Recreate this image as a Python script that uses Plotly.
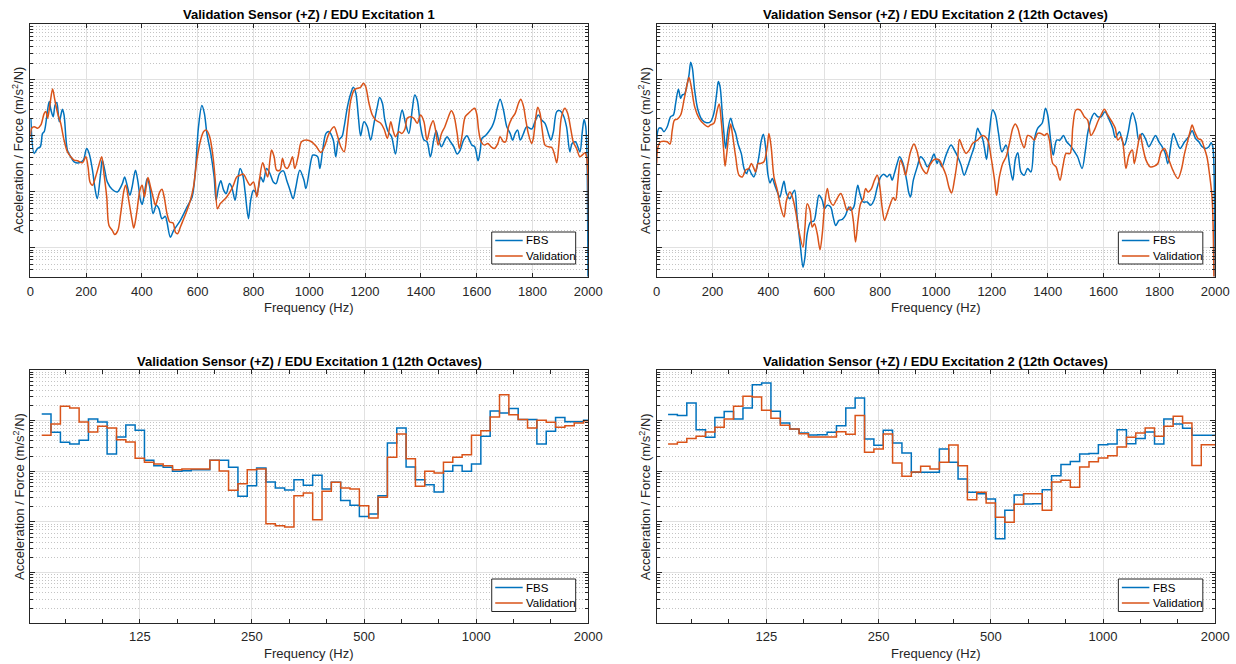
import plotly.graph_objects as go

# ---------------- Top-left: Excitation 1, narrowband ----------------
f_fbs1 = [2, 14, 26, 36, 44, 50, 62, 68, 74, 82, 89, 95, 104, 115, 121, 133, 145, 157, 175, 190,
          202, 211, 223, 231, 240, 252, 258, 267, 276, 294, 312, 330, 338, 347, 357, 365, 377, 386, 395, 401,
          409, 419, 428, 440, 452, 461, 472, 484, 490, 502, 514, 538, 562, 580, 591, 603, 615, 624, 633, 647,
          659, 666, 675, 683, 693, 702, 714, 722, 734, 743, 752, 762, 770, 782, 790, 800, 812, 826, 835, 847,
          859, 871, 881, 893, 907, 919, 931, 942, 952, 966, 981, 988, 1012, 1018, 1030, 1038, 1048, 1060, 1071, 1086,
          1095, 1105, 1117, 1125, 1137, 1149, 1158, 1167, 1176, 1184, 1196, 1208, 1220, 1232, 1244, 1252, 1262, 1271, 1283, 1295,
          1309, 1321, 1333, 1345, 1357, 1369, 1378, 1387, 1399, 1411, 1422, 1434, 1446, 1455, 1464, 1474, 1486, 1494, 1506, 1518,
          1530, 1541, 1553, 1565, 1574, 1583, 1593, 1605, 1613, 1619, 1631, 1643, 1655, 1664, 1672, 1684, 1696, 1708, 1720, 1729,
          1738, 1747, 1756, 1768, 1779, 1797, 1809, 1821, 1833, 1845, 1857, 1866, 1875, 1887, 1898, 1910, 1922, 1934, 1942, 1954,
          1970, 1978, 1985, 1991, 1995, 2000]
a_fbs1 = [2.05, 0.482, 0.592, 0.634, 1.10, 1.18, 2.89, 4.08, 2.89, 2.19, 3.56, 3.92, 1.78, 2.97, 2.35, 0.553, 0.42, 0.341, 0.327, 0.366,
          0.592, 0.482, 0.242, 0.121, 0.0748, 0.210, 0.366, 0.242, 0.149, 0.109, 0.0986, 0.139, 0.183, 0.130, 0.0859, 0.121, 0.242, 0.149, 0.0698, 0.0592,
          0.092, 0.171, 0.121, 0.0403, 0.0568, 0.0495, 0.0327, 0.036, 0.0285, 0.0153, 0.0202, 0.0305, 0.0531, 0.0802, 0.210, 1.45, 3.46, 2.52, 1.10, 0.482,
          0.183, 0.0698, 0.121, 0.156, 0.106, 0.092, 0.139, 0.121, 0.0698, 0.139, 0.259, 0.196, 0.0986, 0.0327, 0.0698, 0.106, 0.092, 0.183, 0.149, 0.259,
          0.21, 0.149, 0.139, 0.21, 0.235, 0.16, 0.106, 0.0748, 0.121, 0.242, 0.16, 0.113, 0.45, 0.45, 0.42, 0.259, 0.553, 1.10, 1.18, 0.836,
          0.42, 0.836, 0.96, 1.45, 3.32, 5.75, 7.38, 5.75, 2.19, 1.0, 1.78, 1.45, 0.836, 1.67, 3.32, 4.82, 3.81, 1.91, 1.18, 0.96,
          0.469, 1.45, 2.89, 1.67, 1.10, 2.89, 5.38, 4.37, 1.45, 0.836, 0.78, 0.42, 0.836, 1.23, 0.836, 0.634, 0.836, 0.96, 0.78, 0.634,
          0.469, 0.553, 0.836, 1.0, 0.836, 0.679, 0.634, 0.356, 0.553, 0.895, 1.0, 1.18, 1.45, 1.91, 2.89, 4.5, 2.89, 1.45, 1.10, 0.836,
          1.10, 1.26, 0.836, 1.10, 1.45, 1.32, 1.78, 2.35, 1.91, 1.67, 1.10, 0.836, 1.18, 2.7, 2.81, 2.35, 1.45, 0.516, 0.728, 0.78,
          0.516, 1.10, 1.96, 1.45, 0.553, 0.0001]

f_val1 = [0, 5, 14, 26, 38, 50, 56, 62, 71, 80, 88, 98, 109, 121, 133, 145, 157, 169, 187, 199,
          207, 214, 223, 234, 246, 256, 264, 274, 282, 294, 303, 314, 324, 336, 342, 353, 365, 371, 381, 393,
          401, 409, 417, 422, 431, 440, 449, 455, 464, 472, 481, 490, 500, 512, 520, 528, 538, 550, 562, 574,
          585, 597, 609, 621, 631, 643, 655, 663, 671, 681, 693, 704, 716, 728, 740, 752, 764, 776, 788, 800,
          812, 821, 833, 842, 851, 859, 865, 874, 883, 895, 904, 913, 921, 931, 940, 948, 960, 972, 990, 1008,
          1024, 1042, 1054, 1071, 1089, 1101, 1113, 1125, 1137, 1149, 1161, 1173, 1184, 1194, 1202, 1214, 1226, 1238, 1256, 1268,
          1280, 1292, 1300, 1309, 1321, 1331, 1343, 1351, 1363, 1375, 1387, 1399, 1411, 1422, 1434, 1444, 1452, 1462, 1474, 1486,
          1497, 1509, 1518, 1530, 1538, 1547, 1559, 1571, 1583, 1593, 1601, 1607, 1616, 1628, 1640, 1652, 1664, 1676, 1684, 1696,
          1704, 1714, 1726, 1738, 1750, 1758, 1768, 1776, 1785, 1797, 1803, 1813, 1819, 1827, 1835, 1845, 1857, 1869, 1878, 1887,
          1895, 1904, 1916, 1926, 1938, 1946, 1958, 1970, 1978, 1988, 1994, 2000]
a_val1 = [0.96, 1.36, 1.45, 1.36, 1.56, 2.52, 2.7, 2.05, 3.81, 6.89, 4.37, 2.52, 1.67, 0.836, 0.516, 0.42, 0.366, 0.356, 0.327, 0.42,
          0.277, 0.149, 0.130, 0.183, 0.297, 0.42, 0.21, 0.0802, 0.0248, 0.0202, 0.0171, 0.0202, 0.0403, 0.106, 0.130, 0.0698, 0.0305, 0.0222, 0.0403, 0.106,
          0.130, 0.0802, 0.139, 0.178, 0.121, 0.0802, 0.0568, 0.0698, 0.0986, 0.110, 0.0748, 0.0403, 0.0285, 0.0274, 0.0188, 0.0176, 0.0232, 0.0327, 0.0462, 0.0698,
          0.121, 0.366, 0.78, 1.18, 1.26, 0.96, 0.42, 0.16, 0.0495, 0.0608, 0.0698, 0.0802, 0.0986, 0.130, 0.183, 0.196, 0.205, 0.16, 0.130, 0.149,
          0.0802, 0.16, 0.327, 0.242, 0.183, 0.366, 0.553, 0.42, 0.242, 0.242, 0.392, 0.277, 0.259, 0.317, 0.42, 0.259, 0.42, 0.78, 0.836, 0.78,
          0.652, 0.502, 0.634, 1.10, 1.45, 1.0, 0.634, 0.516, 1.45, 4.37, 6.6, 7.08, 7.38, 8.71, 7.59, 3.81, 2.35, 1.91, 1.67, 1.32,
          0.895, 1.78, 1.26, 0.96, 1.18, 1.10, 1.32, 2.05, 2.19, 2.05, 1.67, 2.35, 1.78, 0.836, 1.45, 1.86, 1.32, 0.679, 1.10, 1.45,
          2.05, 2.81, 2.35, 1.10, 0.592, 0.96, 2.19, 2.52, 2.89, 3.1, 2.35, 1.26, 0.78, 0.679, 0.728, 0.634, 0.592, 0.728, 0.96, 0.78,
          0.78, 1.45, 2.05, 2.52, 3.81, 4.5, 3.32, 1.91, 1.10, 0.728, 0.895, 2.35, 3.23, 2.52, 1.26, 0.679, 0.634, 0.62, 0.482, 0.327,
          0.728, 2.19, 3.1, 2.52, 1.26, 0.78, 0.592, 0.42, 0.45, 0.496, 0.42, 0.0001]

# ---------------- Top-right: Excitation 2, narrowband ----------------
f_fbs2 = [0, 8, 17, 26, 38, 50, 60, 68, 78, 86, 92, 100, 110, 116, 122, 128, 136, 148, 163, 179,
          193, 205, 215, 221, 227, 235, 241, 247, 255, 265, 274, 283, 291, 303, 313, 322, 330, 339, 348, 358,
          366, 375, 382, 390, 398, 406, 414, 423, 432, 441, 450, 456, 465, 477, 486, 494, 503, 515, 524, 531,
          539, 551, 563, 573, 581, 593, 601, 611, 623, 632, 641, 653, 665, 676, 688, 694, 706, 712, 720, 727,
          739, 754, 766, 778, 790, 802, 813, 825, 835, 843, 851, 861, 870, 882, 895, 903, 909, 919, 933, 945,
          957, 969, 981, 993, 1004, 1010, 1021, 1036, 1054, 1066, 1078, 1090, 1101, 1113, 1125, 1137, 1149, 1155, 1165, 1173,
          1181, 1191, 1203, 1213, 1224, 1236, 1251, 1263, 1275, 1284, 1293, 1304, 1316, 1328, 1340, 1352, 1364, 1380, 1392, 1400,
          1412, 1420, 1432, 1444, 1456, 1468, 1484, 1496, 1507, 1523, 1535, 1543, 1555, 1567, 1579, 1591, 1605, 1618, 1633, 1642,
          1657, 1666, 1675, 1687, 1698, 1704, 1716, 1726, 1738, 1752, 1762, 1776, 1786, 1798, 1810, 1821, 1830, 1842, 1850, 1860,
          1874, 1890, 1905, 1917, 1929, 1941, 1953, 1967, 1977, 1985, 1991, 1997, 2000]
a_fbs2 = [0.836, 1.36, 1.36, 1.18, 1.45, 2.19, 2.35, 3.81, 6.79, 4.69, 5.38, 5.61, 8.71, 12.3, 20.7, 16.2, 6.61, 2.89, 1.91, 1.71,
          1.78, 2.52, 5.75, 9.33, 7.59, 2.52, 1.10, 0.592, 1.26, 2.05, 1.45, 1.10, 0.728, 0.482, 0.259, 0.21, 0.259, 0.21, 0.183, 0.259,
          0.42, 0.836, 1.06, 0.634, 0.21, 0.143, 0.171, 0.13, 0.0986, 0.0802, 0.121, 0.153, 0.092, 0.0748, 0.092, 0.106, 0.0351, 0.0101, 0.0044, 0.0067,
          0.0176, 0.0285, 0.0297, 0.0531, 0.0859, 0.0698, 0.0495, 0.0568, 0.0531, 0.0351, 0.0248, 0.0305, 0.0318, 0.0376, 0.0531, 0.0462, 0.0531, 0.0802, 0.13, 0.0946,
          0.0652, 0.0652, 0.0568, 0.0698, 0.121, 0.183, 0.205, 0.183, 0.205, 0.16, 0.21, 0.318, 0.42, 0.318, 0.16, 0.0946, 0.0802, 0.16, 0.277, 0.42,
          0.366, 0.277, 0.341, 0.469, 0.318, 0.376, 0.277, 0.45, 0.679, 0.553, 0.42, 0.297, 0.196, 0.277, 0.42, 0.634, 1.36, 1.18, 0.96, 0.634,
          0.376, 1.10, 2.89, 2.35, 1.10, 0.516, 0.679, 0.318, 0.16, 0.376, 0.496, 0.225, 0.196, 0.259, 0.225, 0.836, 1.36, 1.67, 3.10, 2.35,
          0.728, 0.45, 0.836, 0.836, 1.01, 0.78, 0.634, 0.516, 0.42, 0.259, 0.553, 1.10, 1.96, 2.52, 2.19, 2.19, 2.70, 2.05, 1.36, 0.93,
          1.18, 0.836, 0.679, 1.10, 2.19, 2.59, 1.67, 0.836, 1.10, 0.836, 0.634, 0.836, 1.01, 0.78, 0.634, 0.482, 0.318, 0.728, 1.10, 0.836,
          0.592, 0.78, 0.96, 1.23, 0.895, 0.78, 0.634, 0.592, 0.634, 0.748, 0.634, 0.0698, 0.0001]

f_val2 = [0, 5, 14, 26, 38, 48, 56, 64, 74, 86, 98, 110, 116, 124, 136, 152, 169, 184, 193, 205,
          217, 224, 232, 239, 245, 251, 259, 265, 271, 283, 295, 307, 318, 330, 339, 346, 354, 363, 372, 384,
          396, 402, 410, 420, 432, 444, 456, 465, 477, 486, 497, 509, 524, 531, 539, 549, 557, 565, 575, 585,
          593, 601, 611, 620, 632, 644, 659, 670, 682, 694, 704, 712, 721, 730, 740, 748, 757, 769, 780, 790,
          799, 807, 816, 825, 837, 847, 855, 864, 873, 883, 891, 900, 909, 921, 931, 943, 954, 966, 978, 994,
          1012, 1024, 1036, 1048, 1056, 1066, 1078, 1084, 1096, 1108, 1119, 1131, 1149, 1167, 1185, 1197, 1209, 1217, 1227, 1239,
          1251, 1263, 1275, 1284, 1293, 1304, 1316, 1328, 1340, 1352, 1364, 1376, 1388, 1398, 1406, 1418, 1430, 1444, 1454, 1466,
          1480, 1490, 1501, 1516, 1531, 1543, 1555, 1567, 1579, 1591, 1603, 1615, 1630, 1642, 1651, 1663, 1671, 1680, 1691, 1703,
          1710, 1722, 1731, 1740, 1752, 1767, 1782, 1794, 1806, 1818, 1830, 1848, 1866, 1878, 1890, 1902, 1911, 1917, 1926, 1938,
          1950, 1961, 1970, 1979, 1989, 1997]
a_val2 = [0.318, 0.634, 0.78, 0.80, 0.78, 0.708, 1.26, 1.91, 1.99, 2.35, 4.37, 8.71, 11.0, 7.59, 3.32, 2.05, 1.62, 1.45, 1.56, 1.67,
          2.89, 3.71, 1.67, 0.634, 0.285, 0.482, 1.10, 1.62, 1.10, 0.42, 0.196, 0.183, 0.242, 0.259, 0.318, 0.277, 0.225, 0.318, 0.318, 0.341,
          0.634, 1.10, 0.634, 0.183, 0.106, 0.0531, 0.0351, 0.0698, 0.0986, 0.0802, 0.0462, 0.0202, 0.0101, 0.0232, 0.0608, 0.0462, 0.0232, 0.0266, 0.0176, 0.0091,
          0.0176, 0.0531, 0.113, 0.0698, 0.0568, 0.0718, 0.092, 0.0698, 0.0462, 0.0531, 0.0305, 0.0125, 0.0305, 0.0608, 0.0748, 0.113, 0.0986, 0.113, 0.16, 0.196,
          0.121, 0.0531, 0.0305, 0.0403, 0.0608, 0.078, 0.0698, 0.16, 0.366, 0.277, 0.196, 0.318, 0.516, 0.708, 0.553, 0.318, 0.242, 0.21, 0.297, 0.376,
          0.366, 0.277, 0.196, 0.113, 0.0946, 0.16, 0.42, 0.86, 0.608, 0.482, 0.553, 0.728, 0.836, 1.01, 0.836, 0.42, 0.171, 0.0859, 0.183, 0.318,
          0.42, 0.728, 1.36, 1.62, 1.36, 0.836, 0.608, 1.01, 0.96, 0.836, 1.10, 1.10, 1.01, 1.10, 0.836, 0.318, 0.277, 0.16, 0.277, 0.482,
          0.482, 1.45, 2.89, 2.89, 2.19, 1.91, 1.01, 1.26, 1.78, 2.35, 2.97, 2.35, 1.78, 1.36, 0.836, 0.96, 0.634, 0.259, 0.45, 0.553,
          0.318, 0.634, 1.06, 0.634, 0.366, 0.277, 0.285, 0.318, 0.516, 0.592, 0.42, 0.242, 0.171, 0.242, 0.482, 0.836, 1.26, 1.56, 1.18, 0.895,
          0.836, 0.592, 0.42, 0.21, 0.0698, 0.0001]

# ---------------- Bottom: 1/12-octave bands ----------------
band_centers = [70.15, 74.3, 78.75, 83.4, 88.4, 93.65, 99.2, 105.1, 111.4, 118.0,
                125.0, 132.4, 140.3, 148.65, 157.5, 166.9, 176.8, 187.3, 198.4, 210.2,
                222.7, 236.0, 250.0, 264.9, 280.6, 297.3, 315.0, 333.7, 353.6, 374.6,
                396.9, 420.4, 445.4, 471.9, 500.0, 529.7, 561.2, 594.6, 630.0, 667.4,
                707.1, 749.2, 793.7, 840.9, 890.9, 943.9, 1000.0, 1059.5, 1122.5, 1189.2,
                1259.9, 1334.8, 1414.2, 1498.3, 1587.4, 1681.8, 1781.8, 1887.7, 2000.0]

o_fbs1 = [13.5, 5.89, 3.73, 3.46, 4.09, 10.8, 9.42, 2.20, 4.76, 8.21,
          6.44, 1.65, 1.29, 1.20, 1.0, 1.03, 1.08, 1.08, 1.65, 1.65,
          1.20, 0.321, 0.52, 1.16, 0.615, 0.469, 0.428, 0.685, 0.53, 0.834,
          0.448, 0.606, 0.264, 0.213, 0.129, 0.144, 0.331, 3.62, 7.16, 1.22,
          0.685, 0.545, 0.391, 1.0, 1.31, 1.0, 1.40, 4.91, 15.5, 14.2,
          17.3, 10.5, 10.5, 3.46, 6.15, 11.6, 9.55, 9.55, 10.2]
o_val1 = [5.14, 8.59, 19.2, 17.8, 9.42, 5.97, 7.73, 7.16, 4.22, 3.79,
          1.81, 1.51, 1.40, 1.29, 1.08, 1.11, 1.11, 1.11, 1.65, 1.02,
          0.422, 0.571, 1.08, 1.11, 0.0927, 0.0847, 0.0796, 0.331, 0.374, 0.111,
          0.403, 0.606, 0.469, 0.448, 0.21, 0.12, 0.307, 1.89, 5.46, 1.78,
          0.506, 1.0, 0.927, 1.51, 1.89, 2.13, 5.14, 6.35, 11.8, 32.6,
          13.1, 10.5, 7.16, 10.2, 9.27, 7.38, 7.96, 9.0, 10.0]
o_fbs2 = [13.3, 12.6, 22.3, 6.64, 4.69, 11.5, 15.1, 10.8, 17.8, 51.4,
          55.3, 15.3, 9.0, 6.85, 5.71, 5.21, 5.30, 5.89, 7.96, 17.8,
          28.0, 4.35, 3.26, 6.44, 3.62, 2.30, 0.955, 0.955, 0.955, 2.76,
          1.51, 0.706, 0.385, 0.362, 0.284, 0.0469, 0.17, 0.341, 0.226, 0.23,
          0.435, 0.82, 1.36, 1.57, 2.20, 2.26, 3.36, 3.46, 6.64, 3.52,
          4.42, 5.97, 3.46, 10.8, 8.59, 7.06, 5.14, 5.14, 5.14]
o_val2 = [3.46, 3.73, 4.42, 4.91, 5.97, 7.38, 10.8, 19.2, 30.2, 29.3,
          16.0, 11.1, 8.09, 6.85, 5.54, 4.76, 4.76, 4.76, 6.07, 5.37,
          12.6, 2.37, 2.76, 5.46, 1.46, 0.796, 0.97, 1.26, 1.11, 1.51,
          3.31, 1.29, 0.276, 0.385, 0.237, 0.124, 0.0984, 0.223, 0.362, 0.362,
          0.17, 0.615, 0.664, 0.483, 1.22, 1.55, 1.83, 2.04, 3.02, 4.69,
          5.71, 7.16, 4.91, 7.73, 12.2, 9.0, 1.31, 3.36, 3.36]

oct_ticks = [125, 250, 500, 1000, 2000]
lin_ticks = list(range(0, 2001, 200))
legend_names = ["FBS", "Validation"]

titles = ["Validation Sensor (+Z) / EDU Excitation 1",
          "Validation Sensor (+Z) / EDU Excitation 2 (12th Octaves)",
          "Validation Sensor (+Z) / EDU Excitation 1 (12th Octaves)",
          "Validation Sensor (+Z) / EDU Excitation 2 (12th Octaves)"]

BLUE = "#0072BD"
ORANGE = "#D95319"
COLORS = [BLUE, ORANGE]
W, H = 1236, 664
FONT = "Liberation Sans, Arial, Helvetica, sans-serif"
AX = "#262626"
LW = 1.5
# the captured picture is compressed horizontally relative to the page; compensate
SX, AXOFF = 0.986, 3.0


def PX(x):
    return ((x - AXOFF) / SX) / W


def PY(y):
    return 1 - y / H


# panel pixel boxes in target-picture coords: (left, top, right, bottom)
boxes = [(29.3, 24, 587.6, 276.5), (656, 24, 1215, 276.5),
         (29.3, 370, 587.6, 623.3), (656, 370, 1215, 623.3)]
# legend boxes (left, top, right, bottom)
legboxes = [(491, 232, 575, 264), (1118, 232, 1202.5, 264),
            (491, 579, 575, 611.5), (1118, 579, 1202.5, 611.5)]


def step_xy(vals):
    xs = [c * 2 ** (-1 / 24) for c in band_centers] + [band_centers[-1] * 2 ** (1 / 24)]
    ys = list(vals) + [vals[-1]]
    return xs, ys


fig = go.Figure()
for idx, fx, fy, vx, vy in [(1, f_fbs1, a_fbs1, f_val1, a_val1), (2, f_fbs2, a_fbs2, f_val2, a_val2)]:
    sfx = "" if idx == 1 else str(idx)
    for name, xx, yy, col in [("FBS", fx, fy, BLUE), ("Validation", vx, vy, ORANGE)]:
        fig.add_trace(go.Scatter(x=xx, y=yy, mode="lines", name=name, showlegend=False,
                                 line=dict(color=col, width=LW, shape="spline", smoothing=0.9),
                                 xaxis="x" + sfx, yaxis="y" + sfx))

for idx, fv, vv in [(3, o_fbs1, o_val1), (4, o_fbs2, o_val2)]:
    sfx = str(idx)
    for name, vals, col in [("FBS", fv, BLUE), ("Validation", vv, ORANGE)]:
        xs, ys = step_xy(vals)
        fig.add_trace(go.Scatter(x=xs, y=ys, mode="lines", name=name, showlegend=False,
                                 line=dict(color=col, width=LW, shape="hv"),
                                 xaxis="x" + sfx, yaxis="y" + sfx))

common = dict(showline=True, linecolor=AX, linewidth=1, mirror="ticks", ticks="inside",
              tickcolor=AX, tickwidth=1, zeroline=False, gridcolor="#e1e1e1", gridwidth=1,
              tickfont=dict(family=FONT, size=13, color=AX))

thirds = [125 * 2 ** (k / 3) for k in range(-2, 12) if k % 3 != 0]
minor_y = [m * 10 ** d for d in range(-3, 2) for m in range(2, 10)]
minor_common = dict(tickvals=minor_y, ticks="inside", ticklen=3, tickcolor=AX,
                    showgrid=True, griddash="1px,2px", gridcolor="#c4c4c4", gridwidth=1)

layout = dict(width=W, height=H, margin=dict(l=0, r=0, t=0, b=0), autosize=False,
              paper_bgcolor="white", plot_bgcolor="white", showlegend=False,
              font=dict(family=FONT, color=AX), hovermode=False)
annotations = []
shapes = []
for i, (l, t, r, b) in enumerate(boxes):
    n = i + 1
    sfx = "" if n == 1 else str(n)
    xd = [PX(l), PX(r)]
    yd = [PY(b), PY(t)]
    if n <= 2:
        xa = dict(common, domain=xd, anchor="y" + sfx, range=[0, 2000], tickvals=lin_ticks,
                  ticklen=4, showgrid=True, ticklabelstandoff=3)
        ya = dict(common, domain=yd, anchor="x" + sfx, type="log", range=[-2.52, 2],
                  tickvals=[1e-2, 1e-1, 1, 10, 100], showticklabels=False, ticklen=5, showgrid=True,
                  minor=minor_common)
    else:
        xa = dict(common, domain=xd, anchor="y" + sfx, type="log",
                  range=[1.8028, 3.30103], tickvals=oct_ticks, ticktext=[str(v) for v in oct_ticks],
                  ticklen=4, showgrid=True, ticklabelstandoff=1,
                  minor=dict(tickvals=thirds, ticks="inside", ticklen=4, tickcolor=AX, showgrid=False))
        ya = dict(common, domain=yd, anchor="x" + sfx, type="log", range=[-3, 2],
                  tickvals=[1e-3, 1e-2, 1e-1, 1, 10, 100], showticklabels=False, ticklen=5, showgrid=True,
                  minor=minor_common)
    layout["xaxis" + sfx] = xa
    layout["yaxis" + sfx] = ya

    cx = (l + r) / 2
    cy = (t + b) / 2
    ty = t - 10 if n <= 2 else t - 8.5
    annotations.append(dict(text="<b>%s</b>" % titles[i], x=PX(cx), y=PY(ty),
                            xref="paper", yref="paper", showarrow=False, xanchor="center",
                            yanchor="middle", font=dict(family=FONT, size=13, color="#000000")))
    xty = b + 31 if n <= 2 else b + 30
    annotations.append(dict(text="Frequency (Hz)", x=PX(cx), y=PY(xty),
                            xref="paper", yref="paper", showarrow=False, xanchor="center",
                            yanchor="middle", font=dict(family=FONT, size=13, color=AX)))
    annotations.append(dict(text="Acceleration / Force (m/s<sup>2</sup>/N)", x=PX(l - 12), y=PY(cy),
                            xref="paper", yref="paper", showarrow=False, xanchor="center",
                            yanchor="middle", textangle=-90,
                            font=dict(family=FONT, size=13, color=AX)))

    # legend drawn in the panel's lower-right corner
    ll, lt, lr, lb = legboxes[i]
    shapes.append(dict(type="rect", xref="paper", yref="paper", x0=PX(ll), x1=PX(lr),
                       y0=PY(lb), y1=PY(lt), line=dict(color=AX, width=1), fillcolor="white",
                       layer="above"))
    for j, nm in enumerate(legend_names):
        ry = lt + 8.5 + j * 15.5
        shapes.append(dict(type="line", xref="paper", yref="paper", x0=PX(ll + 3.5), x1=PX(ll + 31),
                           y0=PY(ry), y1=PY(ry), line=dict(color=COLORS[j], width=LW), layer="above"))
        annotations.append(dict(text=nm, x=PX(ll + 32.5), y=PY(ry), xref="paper", yref="paper",
                                showarrow=False, xanchor="left", yanchor="middle",
                                font=dict(family=FONT, size=11.5, color="#000000")))

layout["annotations"] = annotations
layout["shapes"] = shapes
fig.update_layout(**layout)

# remove the page's default body margin so the figure sits at the window origin
page_js = ("document.documentElement.style.margin='0';document.documentElement.style.padding='0';"
           "document.documentElement.style.overflow='hidden';"
           "document.body.style.margin='0';document.body.style.padding='0';"
           "document.body.style.overflow='hidden';")
fig.write_html("out.html", post_script=page_js, config={"displayModeBar": False})
